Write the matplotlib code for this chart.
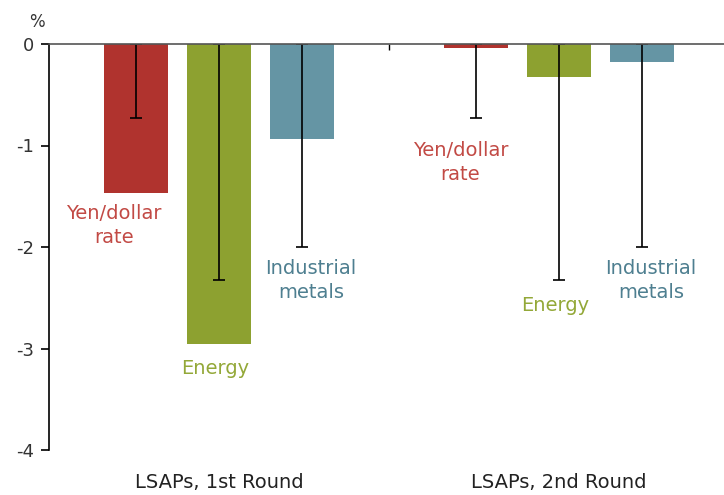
import matplotlib.pyplot as plt
import numpy as np

plt.rcParams["font.family"] = ["DejaVu Sans"]

groups = ["LSAPs, 1st Round", "LSAPs, 2nd Round"]
series = ["Yen/dollar\nrate", "Energy", "Industrial\nmetals"]
values = {
    "Yen/dollar\nrate": [-1.47, -0.04],
    "Energy": [-2.96, -0.33],
    "Industrial\nmetals": [-0.94, -0.18],
}
err_low = {
    "Yen/dollar\nrate": [-0.73, -0.73],
    "Energy": [-2.33, -2.33],
    "Industrial\nmetals": [-2.0, -2.0],
}
# label anchor points (x offset from group centre, y value)
label_pos = {
    "Yen/dollar\nrate": [(-0.31, -1.79), (-0.29, -1.17)],
    "Energy": [(-0.01, -3.20), (-0.01, -2.58)],
    "Industrial\nmetals": [(0.27, -2.33), (0.27, -2.33)],
}
bar_colors = ["#b0332e", "#8da130", "#6595a4"]
text_colors = ["#c24a45", "#93a838", "#4e7f90"]
yticks = [0, -1, -2, -3, -4]

fig = plt.figure(figsize=(7.24, 4.95), dpi=100)
ax = fig.add_axes([49 / 724, 1 - 450 / 495, 1 - 49 / 724, 406 / 495])

x = np.arange(len(groups))
offsets = [-0.244, 0.0, 0.244]
width = 0.188

for i, name in enumerate(series):
    xs = x + offsets[i]
    ax.bar(xs, values[name], width=width, color=bar_colors[i], zorder=2)
    low = np.array(err_low[name])
    ax.errorbar(xs, np.zeros_like(low), yerr=[-low, np.zeros_like(low)],
                fmt="none", ecolor="black", elinewidth=1.2, capsize=4.3,
                capthick=1.2, zorder=3)
    for g, (dx, ly) in enumerate(label_pos[name]):
        ax.text(x[g] + dx, ly, name, ha="center", va="center",
                color=text_colors[i], fontsize=14, linespacing=1.35)

for g, name in enumerate(groups):
    ax.text(x[g], -0.08, name, transform=ax.get_xaxis_transform(),
            ha="center", va="center", fontsize=14, color="#222222")

ax.set_xlim(-0.5, 1.485)
ax.set_ylim(-4, 0)
ax.set_yticks(yticks)
ax.set_yticklabels([str(t) for t in yticks], fontsize=13, color="#333333")
ax.tick_params(axis="y", direction="out", length=6, width=1.2, pad=5)
ax.set_xticks([0.5])
ax.tick_params(axis="x", top=True, bottom=False, labeltop=False,
               labelbottom=False, direction="in", length=4, width=1)

ax.spines["right"].set_visible(False)
ax.spines["bottom"].set_visible(False)
ax.spines["top"].set_color("#555555")
ax.spines["top"].set_linewidth(1.2)
ax.spines["top"].set_zorder(4)
ax.spines["left"].set_linewidth(1.2)

fig.text(37 / 724, 1 - 22 / 495, "%", ha="center", va="center",
         fontsize=12, color="#333333")

fig.savefig("out.png", dpi=100)
